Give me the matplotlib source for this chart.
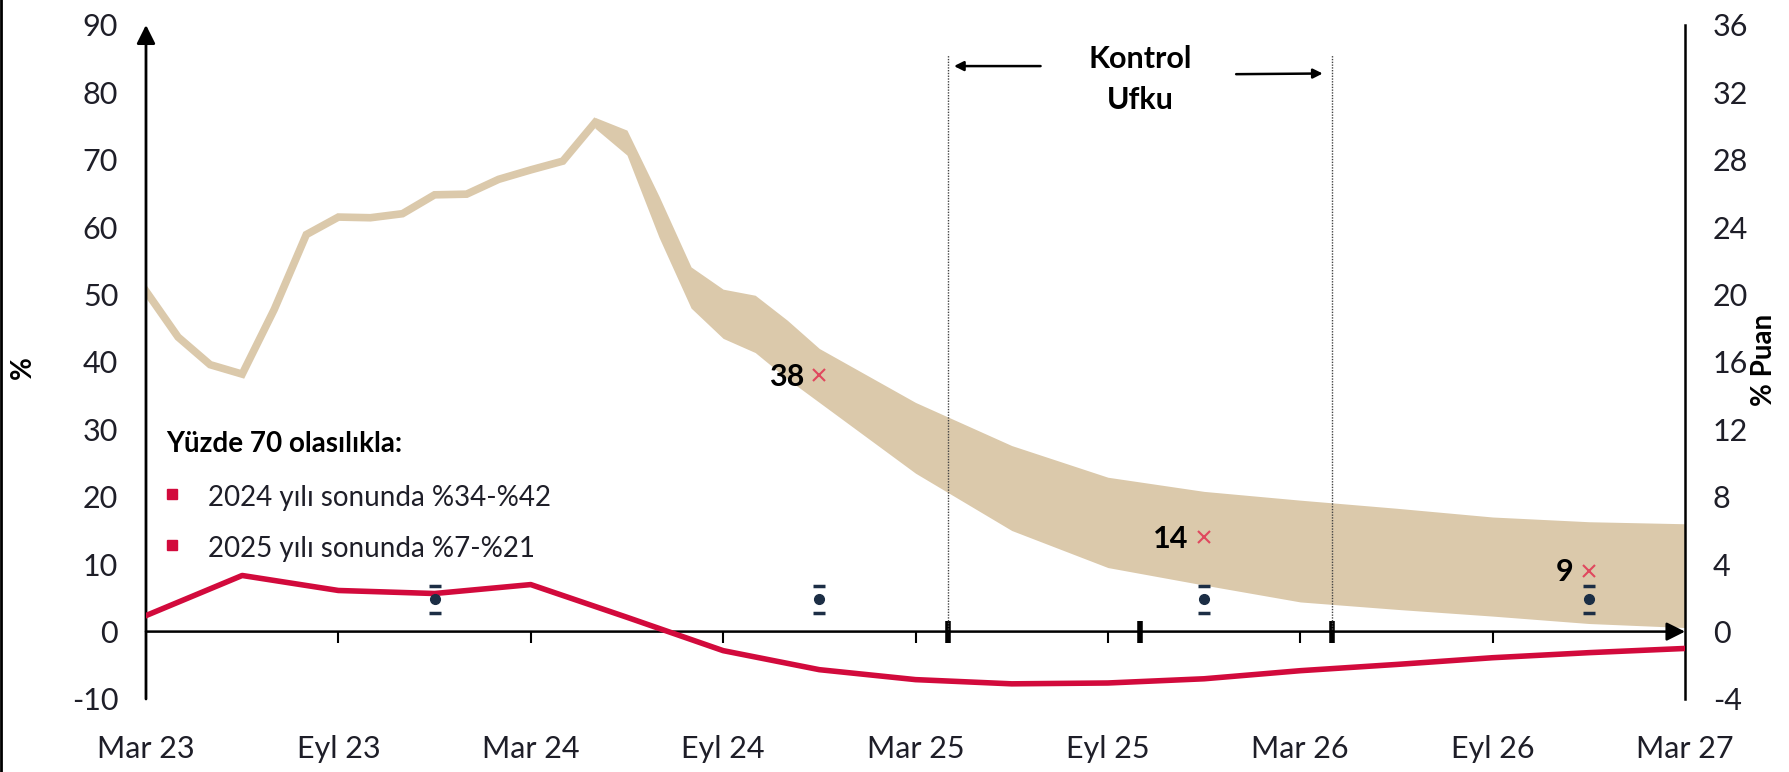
import matplotlib
matplotlib.use("Agg")
import matplotlib.pyplot as plt
from matplotlib.lines import Line2D

plt.rcParams["axes.unicode_minus"] = False

# ---------------- data ----------------
# x positions are months since March 2023 (0 = Mar 23, 48 = Mar 27)
tick_months = [0, 6, 12, 18, 24, 30, 36, 42, 48]
tick_labels = ["Mar 23", "Eyl 23", "Mar 24", "Eyl 24", "Mar 25", "Eyl 25", "Mar 26", "Eyl 26", "Mar 27"]

# realised annual inflation (%), left axis
hist_months = [0, 1, 2, 3, 4, 5, 6, 7, 8, 9, 10, 11, 12, 13, 14]
hist_values = [50.5, 43.7, 39.6, 38.2, 47.8, 58.9, 61.5, 61.4, 62.0, 64.8, 64.9, 67.1, 68.5, 69.8, 75.5]

# forecast band (%), left axis
band_months = [14, 15, 16, 17, 18, 19, 20, 21, 24, 27, 30, 33, 36, 39, 42, 45, 48]
band_upper = [76.3, 74.4, 64.6, 54.1, 50.8, 49.9, 46.2, 42.0, 34.0, 27.6, 22.9, 20.8, 19.5, 18.3, 17.0, 16.3, 16.0]
band_lower = [74.7, 70.7, 58.5, 48.0, 43.5, 41.4, 37.5, 34.0, 23.5, 15.0, 9.5, 6.9, 4.4, 3.3, 2.3, 1.2, 0.6]

# interim targets (%), left axis
target_months = [21, 33, 45]
target_values = [38, 14, 9]
target_labels = ["38", "14", "9"]

# red line (% Puan), right axis
red_months = [0, 3, 6, 9, 12, 15, 18, 21, 24, 27, 30, 33, 36, 39, 42, 45, 48]
red_values = [0.95, 3.33, 2.44, 2.26, 2.79, 0.85, -1.13, -2.26, -2.85, -3.1, -3.05, -2.8, -2.32, -1.95, -1.55, -1.25, -1.0]

# dots with caps (% Puan), right axis
dot_months = [9, 21, 33, 45]
dot_values = [1.93, 1.93, 1.93, 1.93]
dot_high = [2.73, 2.73, 2.73, 2.73]
dot_low = [1.10, 1.10, 1.10, 1.10]

# control horizon
horizon_months = [25, 37]
thick_tick_months = [25, 31, 37]
minor_tick_months = [6, 12, 18, 24, 30, 36, 42]

legend_title = "Yüzde 70 olasılıkla:"
legend_lines = ["2024 yılı sonunda %34-%42", "2025 yılı sonunda %7-%21"]

# ---------------- style ----------------
BEIGE = "#dbc9ab"
RED = "#d20a3c"
XRED = "#e0485e"
NAVY = "#1c2e45"
TXT = "#1e1e28"
FONT = ["Lato", "DejaVu Sans"]

fig = plt.figure(figsize=(17.9, 7.72), dpi=100)
ax = fig.add_axes([0.08156, 0.09456, 0.8598, 0.8731])
ax.set_xlim(0, 48)
ax.set_ylim(-10, 90)
for s in ax.spines.values():
    s.set_visible(False)

# band + history
ax.fill_between(band_months, band_lower, band_upper, color=BEIGE, lw=0, zorder=2)
ax.plot(hist_months, hist_values, color=BEIGE, lw=5.5, solid_joinstyle="miter", zorder=2)

# axes arrows
ax.annotate("", xy=(0, 1.0), xytext=(0, 0), xycoords="axes fraction",
            arrowprops=dict(arrowstyle="-|>", lw=2, color="black", mutation_scale=28, shrinkA=0, shrinkB=0),
            zorder=6)
ax.annotate("", xy=(1.0, 0), xytext=(0, 0), xycoords=("axes fraction", "data"),
            arrowprops=dict(arrowstyle="-|>", lw=1.8, color="black", mutation_scale=28, shrinkA=0, shrinkB=0),
            zorder=6)

# ticks on the zero line
sec = ax.secondary_xaxis(0, transform=ax.transData)
sec.spines["bottom"].set_visible(False)
sec.set_xticks(minor_tick_months, labels=[""] * len(minor_tick_months))
sec.set_xticks(thick_tick_months, labels=[""] * len(thick_tick_months), minor=True)
sec.tick_params(which="major", direction="out", length=8, width=1.5, color="black")
sec.tick_params(which="minor", direction="inout", length=16, width=4, color="black")

# control horizon dotted lines
ax.vlines(horizon_months, 0, 85.5, colors="#444444", linestyles=(0, (1, 1)), lw=1, zorder=3)
ax.annotate("", xy=(25.2, 83.9), xytext=(27.9, 83.9),
            arrowprops=dict(arrowstyle="-|>", lw=1.8, color="black", mutation_scale=14, shrinkA=0, shrinkB=0))
ax.annotate("", xy=(36.7, 82.8), xytext=(34.0, 82.7),
            arrowprops=dict(arrowstyle="-|>", lw=1.8, color="black", mutation_scale=14, shrinkA=0, shrinkB=0))
ax.text(31.0, 84.9, "Kontrol", ha="center", va="center", fontsize=22, fontweight="bold", family=FONT, color="black")
ax.text(31.0, 78.9, "Ufku", ha="center", va="center", fontsize=22, fontweight="bold", family=FONT, color="black")

# targets
ax.plot(target_months, target_values, ls="none", marker="x", ms=9, mew=1.5, color=XRED, zorder=7)
for m, v, lab in zip(target_months, target_values, target_labels):
    ax.annotate(lab, xy=(m, v), xytext=(-11, -1), textcoords="offset points", ha="right", va="center",
                fontsize=22, fontweight="bold", family=FONT, color="black", zorder=7)

# legend text
ax.text(0.62, 27.9, legend_title, ha="left", va="center", fontsize=20, fontweight="bold", family=FONT, color="black")
for yv, line in zip([19.75, 12.3], legend_lines):
    ax.plot([0.8], [yv + 0.6], ls="none", marker="s", ms=7, color=RED)
    ax.text(1.93, yv, line, ha="left", va="center", fontsize=20, family=FONT, color=TXT)

# x tick labels
ax.set_xticks(tick_months, labels=tick_labels)
ax.set_yticks(range(-10, 91, 10))
ax.tick_params(axis="x", length=0, pad=26, labelsize=22, labelcolor=TXT)
ax.tick_params(axis="y", length=0, pad=20, labelsize=22, labelcolor=TXT)
for lab in ax.get_xticklabels() + ax.get_yticklabels():
    lab.set_family(FONT)

# right axis
ax2 = ax.twinx()
ax2.set_ylim(-4, 36)
for k in ["top", "bottom", "left"]:
    ax2.spines[k].set_visible(False)
ax2.spines["right"].set_linewidth(1.8)
ax2.spines["right"].set_color("black")
ax2.set_yticks(range(-4, 37, 4))
ax2.tick_params(axis="y", length=0, pad=20, labelsize=22, labelcolor=TXT)
for lab in ax2.get_yticklabels():
    lab.set_family(FONT)

ax2.plot(red_months, red_values, color=RED, lw=4, zorder=5, solid_joinstyle="round")
ax2.plot(dot_months, dot_values, ls="none", marker="o", ms=7, color=NAVY, zorder=6)
ax2.plot(dot_months, dot_high, ls="none", marker="_", ms=9, mew=2.5, color=NAVY, zorder=6)
ax2.plot(dot_months, dot_low, ls="none", marker="_", ms=9, mew=2.5, color=NAVY, zorder=6)

# axis titles
fig.text(23 / 1790, 1 - 368 / 772, "%", rotation=90, ha="center", va="center", fontsize=20,
         fontweight="bold", family=FONT, color="black")
fig.text(1764 / 1790, 1 - 360 / 772, "% Puan", rotation=90, ha="center", va="center", fontsize=20,
         fontweight="bold", family=FONT, color="black")

fig.add_artist(Line2D([0.0008, 0.0008], [0, 1], color="black", lw=2, transform=fig.transFigure))

fig.savefig("out.png", dpi=100)
